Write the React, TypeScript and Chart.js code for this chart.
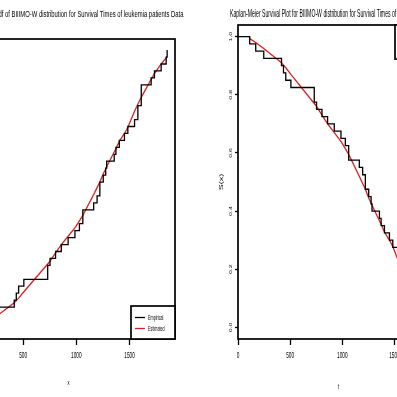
import React, { useEffect, useRef } from 'react';
import { Chart, registerables } from 'chart.js';
Chart.register(...registerables);

// ---- data ----
const xStart = 0;
const eventTimes = [112, 170, 247, 417, 436, 458, 507, 731, 753, 805, 859, 923, 987, 1029, 1061, 1163, 1195, 1221, 1253, 1276, 1285, 1356, 1372, 1404, 1452, 1484, 1547, 1578, 1610, 1703, 1734, 1797, 1844, 1853];
const ecdfValues = [0.025, 0.05, 0.075, 0.1, 0.125, 0.15, 0.175, 0.225, 0.25, 0.275, 0.3, 0.325, 0.35, 0.375, 0.425, 0.45, 0.475, 0.525, 0.55, 0.575, 0.6, 0.625, 0.65, 0.675, 0.7, 0.725, 0.75, 0.8, 0.875, 0.9, 0.925, 0.95, 0.975, 1.0];
const fittedCdf = [0.007, 0.02, 0.041, 0.09, 0.098, 0.107, 0.13, 0.23, 0.24, 0.27, 0.3, 0.33, 0.36, 0.385, 0.405, 0.48, 0.505, 0.525, 0.555, 0.572, 0.58, 0.633, 0.645, 0.672, 0.7, 0.722, 0.78, 0.805, 0.83, 0.895, 0.915, 0.95, 0.972, 0.977];
const survivalValues = [0.975, 0.95, 0.925, 0.9, 0.875, 0.85, 0.825, 0.775, 0.75, 0.725, 0.7, 0.675, 0.65, 0.625, 0.575, 0.55, 0.525, 0.475, 0.45, 0.425, 0.4, 0.375, 0.35, 0.325, 0.3, 0.275, 0.25, 0.2, 0.125, 0.1, 0.075, 0.05, 0.025, 0.0];
const fittedSurvival = [0.993, 0.98, 0.959, 0.91, 0.902, 0.893, 0.87, 0.77, 0.76, 0.73, 0.7, 0.67, 0.64, 0.615, 0.595, 0.52, 0.495, 0.475, 0.445, 0.428, 0.42, 0.367, 0.355, 0.328, 0.3, 0.278, 0.22, 0.195, 0.17, 0.105, 0.085, 0.05, 0.028, 0.023];
const xTicks = [0, 500, 1000, 1500];
const yTicks = [0, 0.2, 0.4, 0.6, 0.8, 1.0];
const yTickLabels = ['0.0', '0.2', '0.4', '0.6', '0.8', '1.0'];
const legendLabels = ['Empirical', 'Estimated'];
const leftTitle = 'Plot of Empirical cdf of BIIIMO-W distribution for Survival Times of leukemia patients Data';
const rightTitle = 'Kaplan-Meier Survival Plot for BIIIMO-W distribution for Survival Times of leukemia patients Data';
const leftXTitle = 'x';
const rightXTitle = 't';
const rightYTitle = 'S(x)';

const FAMILY = '"Liberation Sans", Arial, sans-serif';
const SQ = 0.5;
const RED = '#d92020';

const squishPlugin = {
  id: 'squish',
  beforeInit(chart: any) {
    const ctx: any = chart.ctx;
    const orig = CanvasRenderingContext2D.prototype.fillText;
    ctx.fillText = function (text: string, x: number, y: number, maxWidth?: number) {
      const s = this.__sq ?? SQ;
      const m = this.getTransform();
      const p = m.transformPoint(new DOMPoint(x, y));
      this.setTransform(new DOMMatrix([s, 0, 0, 1, p.x * (1 - s), 0]).multiply(m));
      if (maxWidth === undefined) orig.call(this, text, x, y);
      else orig.call(this, text, x, y, maxWidth);
      this.setTransform(m);
    };
  },
};

const boxPlugin = {
  id: 'rBox',
  afterDatasetsDraw(chart: any) {
    const { ctx, chartArea: a } = chart;
    ctx.save();
    ctx.strokeStyle = '#000';
    ctx.lineWidth = 1.7;
    ctx.strokeRect(a.left, a.top, a.right - a.left, a.bottom - a.top);
    ctx.restore();
  },
};

const titlePlugin = {
  id: 'rTitle',
  afterDraw(chart: any, _args: any, opts: any) {
    const { ctx, chartArea: a } = chart;
    ctx.save();
    ctx.font = `${opts.size}px ${FAMILY}`;
    ctx.fillStyle = '#000';
    ctx.textAlign = 'center';
    ctx.textBaseline = 'middle';
    ctx.__sq = opts.squish;
    ctx.fillText(opts.text, (a.left + a.right) / 2 + (opts.dx || 0), opts.y);
    ctx.__sq = undefined;
    ctx.restore();
  },
};

const legendPlugin = {
  id: 'rLegend',
  afterDraw(chart: any, _args: any, opts: any) {
    const { ctx, chartArea: a } = chart;
    const w = opts.width, h = opts.height;
    const x = a.right - w;
    const y = opts.corner === 'top' ? a.top : a.bottom - h;
    ctx.save();
    ctx.fillStyle = '#fff';
    ctx.fillRect(x, y, w, h);
    ctx.strokeStyle = '#000';
    ctx.lineWidth = 1.7;
    ctx.strokeRect(x, y, w, h);
    chart.data.datasets.forEach((ds: any, i: number) => {
      const ly = y + opts.rows[i];
      ctx.strokeStyle = ds.borderColor;
      ctx.lineWidth = 1.3;
      ctx.beginPath();
      ctx.moveTo(x + 4, ly);
      ctx.lineTo(x + 14, ly);
      ctx.stroke();
      ctx.fillStyle = '#000';
      ctx.font = `7.5px ${FAMILY}`;
      ctx.textAlign = 'left';
      ctx.textBaseline = 'middle';
      ctx.fillText(ds.label, x + 17, ly);
    });
    ctx.restore();
  },
};

const yLabelPlugin = {
  id: 'rYLabels',
  afterDraw(chart: any, _args: any, opts: any) {
    if (!opts || !opts.display) return;
    const { ctx } = chart;
    const sc = chart.scales.y;
    ctx.save();
    ctx.font = `7px ${FAMILY}`;
    ctx.fillStyle = '#000';
    ctx.textAlign = 'center';
    ctx.textBaseline = 'middle';
    sc.ticks.forEach((t: any) => {
      const py = sc.getPixelForValue(t.value);
      ctx.save();
      ctx.translate(chart.chartArea.left - opts.offset, py);
      ctx.rotate(-Math.PI / 2);
      ctx.fillText(t.label, 0, 0);
      ctx.restore();
    });
    ctx.restore();
  },
};

Chart.defaults.font.family = FAMILY;

function xScale(min: number, max: number, title: string, titleBottom: number) {
  return {
    type: 'linear',
    min,
    max,
    afterBuildTicks: (s: any) => { s.ticks = xTicks.map((v) => ({ value: v })); },
    afterFit: (s: any) => { s.height = 58; },
    grid: { display: true, drawOnChartArea: false, drawTicks: true, tickLength: 6, tickWidth: 1.3, tickColor: '#000' },
    border: { display: false },
    ticks: { font: { size: 9.5 }, color: '#000', padding: 5, maxRotation: 0, minRotation: 0, autoSkip: false, callback: (v: number) => String(v) },
    title: { display: true, text: title, color: '#000', font: { size: 8 }, padding: { top: 0, bottom: titleBottom } },
  };
}

function useChart(ref: any, config: any) {
  useEffect(() => {
    const chart = new Chart(ref.current, config);
    return () => chart.destroy();
  }, []);
}

export default function App() {
  const leftRef = useRef<HTMLCanvasElement>(null);
  const rightRef = useRef<HTMLCanvasElement>(null);

  useChart(leftRef, {
    type: 'line',
    data: {
      datasets: [
        {
          label: legendLabels[0],
          data: [{ x: xStart, y: 0 }, ...eventTimes.map((t, i) => ({ x: t, y: ecdfValues[i] }))],
          borderColor: '#000', borderWidth: 1.3, pointRadius: 0, stepped: true, fill: false,
        },
        {
          label: legendLabels[1],
          data: eventTimes.map((t, i) => ({ x: t, y: fittedCdf[i] })),
          borderColor: RED, borderWidth: 1.3, pointRadius: 0, tension: 0, fill: false,
        },
      ],
    },
    options: {
      responsive: false, maintainAspectRatio: false, animation: false, devicePixelRatio: 1,
      layout: { padding: { left: 42, right: 15, top: 39, bottom: 0 } },
      scales: {
        x: xScale(-74, 1927, leftXTitle, 9),
        y: { type: 'linear', min: -0.04, max: 1.04, display: false },
      },
      plugins: {
        legend: { display: false }, tooltip: { enabled: false }, title: { display: false },
        rTitle: { text: leftTitle, size: 8.5, squish: 0.69, y: 15, dx: -1 },
        rLegend: { corner: 'bottom', width: 44, height: 33, rows: [11.5, 22.5] },
        rYLabels: { display: false },
      },
    },
    plugins: [squishPlugin, boxPlugin, titlePlugin, legendPlugin, yLabelPlugin],
  });

  useChart(rightRef, {
    type: 'line',
    data: {
      datasets: [
        {
          label: legendLabels[0],
          data: [{ x: xStart, y: 1 }, ...eventTimes.map((t, i) => ({ x: t, y: survivalValues[i] }))],
          borderColor: '#000', borderWidth: 1.3, pointRadius: 0, stepped: true, fill: false,
        },
        {
          label: legendLabels[1],
          data: eventTimes.map((t, i) => ({ x: t, y: fittedSurvival[i] })),
          borderColor: RED, borderWidth: 1.3, pointRadius: 0, tension: 0, fill: false,
        },
      ],
    },
    options: {
      responsive: false, maintainAspectRatio: false, animation: false, devicePixelRatio: 1,
      layout: { padding: { left: 0, right: 21, top: 25, bottom: 0 } },
      scales: {
        x: xScale(0, 1927, rightXTitle, 5),
        y: {
          type: 'linear', min: -0.04, max: 1.04,
          afterBuildTicks: (s: any) => { s.ticks = yTicks.map((v) => ({ value: v })); },
          afterFit: (s: any) => { s.width = 38; },
          grid: { display: true, drawOnChartArea: false, drawTicks: true, tickLength: 3, tickWidth: 1.3, tickColor: '#000' },
          border: { display: false },
          ticks: { display: false, callback: (v: number) => yTickLabels[yTicks.indexOf(v)] },
          title: { display: true, text: rightYTitle, color: '#000', font: { size: 9 }, padding: { top: 16.5, bottom: 0 } },
        },
      },
      plugins: {
        legend: { display: false }, tooltip: { enabled: false }, title: { display: false },
        rTitle: { text: rightTitle, size: 11, squish: 0.467, y: 14, dx: 1.5 },
        rLegend: { corner: 'top', width: 44, height: 34, rows: [11.5, 22.5] },
        rYLabels: { display: true, offset: 6.5 },
      },
    },
    plugins: [squishPlugin, boxPlugin, titlePlugin, legendPlugin, yLabelPlugin],
  });

  return (
    <div style={{ position: 'fixed', left: 0, top: 0, width: 397, height: 397, overflow: 'hidden', background: '#fff' }}>
      <canvas ref={leftRef} width={270} height={397} style={{ position: 'absolute', left: -80, top: 0, width: 270, height: 397 }} />
      <canvas ref={rightRef} width={260} height={397} style={{ position: 'absolute', left: 200, top: 0, width: 260, height: 397 }} />
    </div>
  );
}
